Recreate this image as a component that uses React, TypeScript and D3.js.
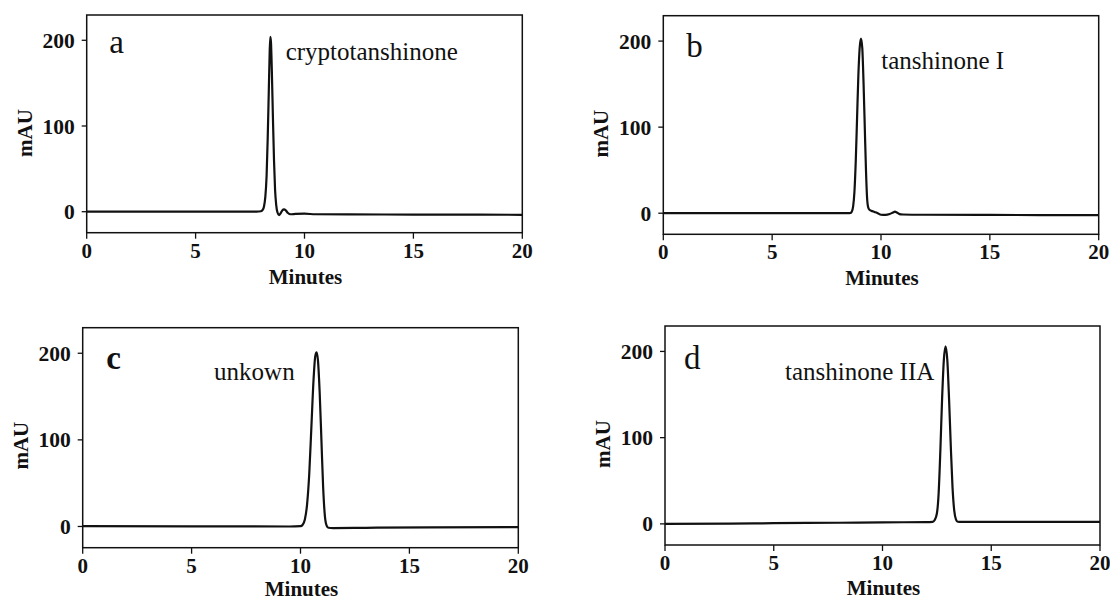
import React from "react";
import * as d3 from "d3";

// ---- data (time in minutes, absorbance in mAU) ----
const xTicks = [0, 5, 10, 15, 20];
const yTicks = [0, 100, 200];
const panelLetters = ["a", "b", "c", "d"];
const compoundNames = ["cryptotanshinone", "tanshinone I", "unkown", "tanshinone IIA"];
const xTitle = "Minutes";
const yTitle = "mAU";

const traceA: [number, number][] = [
  [0, 0], [3, 0], [6, 0], [7.8, 0], [8.0, 0.5], [8.08, 2], [8.14, 6], [8.2, 17], [8.26, 42],
  [8.31, 85], [8.36, 140], [8.4, 185], [8.43, 204], [8.46, 198], [8.5, 165], [8.55, 110],
  [8.6, 60], [8.65, 25], [8.7, 8], [8.76, -1], [8.83, -4], [8.9, -2], [8.98, 1.5], [9.06, 2.6],
  [9.14, 1.5], [9.24, -1.5], [9.36, -3], [9.6, -2.5], [10, -2.3], [10.5, -3], [12, -3.2],
  [15, -3.3], [18, -3.5], [20, -3.6],
];
const traceB: [number, number][] = [
  [0, 0], [3, 0], [6, 0], [8.5, 0], [8.6, 0.3], [8.66, 2], [8.72, 8], [8.78, 25], [8.84, 60],
  [8.9, 110], [8.96, 160], [9.02, 192], [9.08, 203], [9.14, 192], [9.2, 150], [9.26, 95],
  [9.31, 50], [9.36, 18], [9.41, 7], [9.47, 4], [9.55, 3], [9.7, 1.5], [9.85, 0], [10.0, -1.8],
  [10.2, -2], [10.4, -1], [10.55, 0.8], [10.64, 1.8], [10.73, 0.8], [10.85, -1], [11, -1.5],
  [12, -1.8], [15, -2], [20, -2.3],
];
const traceC: [number, number][] = [
  [0, 0.3], [5, 0.2], [9.5, 0], [10.0, 0.3], [10.1, 2], [10.2, 8], [10.3, 25], [10.4, 60],
  [10.5, 115], [10.6, 170], [10.68, 197], [10.74, 201], [10.8, 192], [10.88, 155], [10.96, 100],
  [11.04, 45], [11.12, 12], [11.2, 1], [11.28, -1.5], [11.5, -1.8], [13, -1.5], [16, -1],
  [20, -0.8],
];
const traceD: [number, number][] = [
  [0, 0], [3, 0.3], [5, 0.8], [8, 1.3], [10, 1.8], [12, 2], [12.3, 2.3], [12.4, 4.5],
  [12.5, 12], [12.58, 35], [12.66, 85], [12.74, 145], [12.82, 190], [12.9, 206], [12.98, 190],
  [13.06, 145], [13.14, 90], [13.22, 42], [13.3, 15], [13.38, 5], [13.46, 2.5], [13.6, 2.3],
  [15, 2.4], [20, 2.4],
];
const traces = [traceA, traceB, traceC, traceD];

// ---- layout ----
const W = 1110;
const H = 601;
const frames = [
  { l: 86.7, r: 522.3, t: 15, b: 232.7, lx: 22.5, ly: 37.5, nx: 199, ny: 45, bold: false, tb: 51 },
  { l: 663.3, r: 1098.7, t: 15.7, b: 234.3, lx: 23, ly: 41.6, nx: 218, ny: 53.3, bold: false, tb: 51 },
  { l: 82.7, r: 518.3, t: 327.7, b: 547.7, lx: 23.6, ly: 41, nx: 131.4, ny: 52, bold: true, tb: 48.5 },
  { l: 665, r: 1100, t: 326, b: 545, lx: 19, ly: 42.6, nx: 120, ny: 54.2, bold: false, tb: 50 },
];
const yDomain: [number, number] = [-24.5, 229.5];
const FONT = "'Liberation Serif', 'Times New Roman', Times, serif";
const INK = "#111";

function Panel({ i }: { i: number }) {
  const f = frames[i];
  const x = d3.scaleLinear().domain([0, 20]).range([f.l, f.r]);
  const y = d3.scaleLinear().domain(yDomain).range([f.b, f.t]);
  const line = d3
    .line<[number, number]>()
    .x((d) => x(d[0]))
    .y((d) => y(d[1]))
    .curve(d3.curveMonotoneX);
  return (
    <g>
      <path d={line(traces[i]) || ""} fill="none" stroke={INK} strokeWidth={2.2} strokeLinejoin="round" />
      <rect x={f.l} y={f.t} width={f.r - f.l} height={f.b - f.t} fill="none" stroke={INK} strokeWidth={1.5} />
      {xTicks.map((t) => (
        <g key={"x" + t}>
          <line x1={x(t)} x2={x(t)} y1={f.b} y2={f.b + 6} stroke={INK} strokeWidth={1.3} />
          <text x={x(t)} y={f.b + 25} textAnchor="middle" fontFamily={FONT} fontWeight="bold" fontSize={21} fill={INK}>
            {t}
          </text>
        </g>
      ))}
      {yTicks.map((t) => (
        <g key={"y" + t}>
          <line x1={f.l - 5} x2={f.l} y1={y(t)} y2={y(t)} stroke={INK} strokeWidth={1.3} />
          <text x={f.l - 12} y={y(t)} dy="0.35em" textAnchor="end" fontFamily={FONT} fontWeight="bold" fontSize={21.5} fill={INK}>
            {t}
          </text>
        </g>
      ))}
      <text x={(f.l + f.r) / 2 + 1} y={f.b + f.tb} textAnchor="middle" fontFamily={FONT} fontWeight="bold" fontSize={21} fill={INK}>
        {xTitle}
      </text>
      <text
        transform={`translate(${f.l - 55},${f.t + 118}) rotate(-90)`}
        textAnchor="middle"
        fontFamily={FONT}
        fontWeight="bold"
        fontSize={21}
        fill={INK}
      >
        {yTitle}
      </text>
      <text x={f.l + f.lx} y={f.t + f.ly} fontFamily={FONT} fontSize={33} fontWeight={f.bold ? "bold" : "normal"} fill={INK}>
        {panelLetters[i]}
      </text>
      <text x={f.l + f.nx} y={f.t + f.ny} fontFamily={FONT} fontSize={25} fill={INK}>
        {compoundNames[i]}
      </text>
    </g>
  );
}

export default function App() {
  return (
    <svg
      width={W}
      height={H}
      viewBox={`0 0 ${W} ${H}`}
      style={{ position: "absolute", left: 0, top: 0, background: "#fff" }}
    >
      <rect width={W} height={H} fill="#fff" />
      {frames.map((_, i) => (
        <Panel key={i} i={i} />
      ))}
    </svg>
  );
}
